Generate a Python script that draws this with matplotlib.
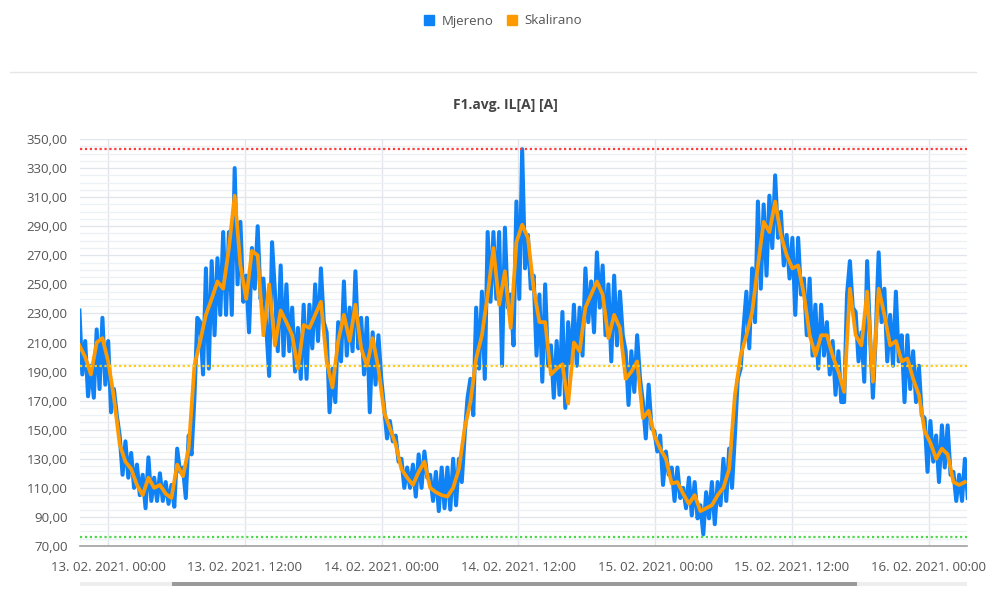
import matplotlib
matplotlib.use('Agg')
import matplotlib.pyplot as plt
import matplotlib.dates as mdates
from matplotlib.lines import Line2D
from matplotlib.patches import Rectangle, Patch
from matplotlib.ticker import FixedLocator, FuncFormatter
import pandas as pd
import numpy as np

plt.rcParams['font.family'] = ['Open Sans', 'DejaVu Sans']

####################################################
# Data (struja po fazi, A)
####################################################
# Mjereno ~ every 15 min, Skalirano ~ every 30 min
mjereno = [
    232, 188, 211, 173, 194, 172, 219, 178, 227, 181, 211, 162, 178, 160, 146, 119,
    142, 117, 134, 110, 126, 105, 119, 96, 131, 101, 117, 101, 120, 101, 114, 99,
    112, 97, 137, 121, 124, 103, 146, 133, 172, 227, 224, 188, 261, 192, 266, 215,
    268, 229, 286, 229, 286, 229, 330, 250, 293, 238, 256, 217, 275, 247, 290, 240,
    254, 220, 187, 279, 245, 204, 263, 201, 250, 204, 234, 190, 220, 185, 236, 185,
    236, 206, 250, 211, 261, 224, 217, 162, 192, 169, 224, 197, 252, 201, 234, 204,
    259, 206, 227, 188, 227, 162, 217, 181, 215, 185, 165, 144, 156, 142, 146, 128,
    130, 110, 124, 110, 126, 104, 133, 110, 135, 117, 119, 101, 121, 94, 124, 96,
    124, 95, 130, 98, 130, 114, 146, 172, 185, 160, 234, 192, 245, 185, 286, 238,
    286, 240, 286, 194, 289, 234, 243, 208, 307, 240, 343, 261, 284, 247, 256, 201,
    243, 183, 250, 194, 208, 172, 211, 174, 231, 165, 224, 194, 236, 194, 234, 201,
    261, 224, 252, 217, 272, 234, 263, 215, 250, 197, 256, 208, 245, 215, 204, 167,
    204, 176, 215, 185, 169, 144, 181, 151, 149, 135, 146, 112, 135, 119, 124, 101,
    124, 103, 110, 96, 117, 91, 114, 89, 98, 78, 107, 89, 114, 85, 114, 98,
    130, 101, 137, 110, 146, 185, 192, 220, 245, 206, 261, 224, 307, 247, 305, 256,
    311, 275, 325, 282, 300, 263, 284, 254, 282, 229, 282, 243, 254, 215, 254, 201,
    236, 192, 236, 201, 224, 188, 211, 174, 204, 169, 169, 243, 266, 234, 231, 197,
    217, 183, 266, 215, 172, 215, 272, 224, 247, 197, 229, 194, 245, 197, 215, 169,
    215, 178, 204, 169, 194, 160, 158, 121, 156, 128, 146, 114, 153, 124, 153, 119,
    121, 101, 119, 101, 130, 103,
]
skalirano = [
    208, 200, 188, 210, 213, 197, 172, 140, 128, 123, 112, 105, 117, 110, 112, 106,
    103, 126, 118, 137, 194, 211, 229, 240, 252, 247, 275, 311, 263, 240, 273, 270,
    215, 250, 208, 232, 224, 215, 192, 222, 220, 229, 238, 197, 179, 211, 229, 211,
    236, 206, 194, 213, 192, 162, 151, 140, 123, 117, 112, 121, 128, 110, 107,
    105, 104, 110, 123, 151, 169, 199, 215, 243, 275, 236, 259, 220, 279, 291, 282,
    247, 224, 224, 188, 192, 195, 168, 210, 204, 234, 243, 252, 243, 213, 229,
    220, 185, 190, 197, 158, 163, 146, 137, 130, 113, 114, 106, 99, 105, 94, 96,
    98, 105, 110, 123, 174, 201, 215, 231, 263, 293, 286, 307, 284, 270, 261,
    263, 243, 215, 201, 215, 215, 201, 190, 176, 247, 215, 208, 245, 183, 247, 229,
    208, 211, 197, 199, 185, 174, 149, 141, 130, 137, 133, 114, 112, 114,
]
granice = [343, 194, 76]          # gornja, srednja, donja granica
granice_boje = ['#ff3b3b', '#ffcc1a', '#4cd94c']
serije = ['Mjereno', 'Skalirano']

t_pocetak = '2021-02-12 21:29'
t_kraj = '2021-02-16 03:10'
t_skal = pd.date_range(t_pocetak, t_kraj, periods=len(skalirano))
t_mjer = pd.date_range(t_pocetak, '2021-02-16 03:25', periods=len(mjereno))

BLUE = '#0f82f5'
ORANGE = '#ff9900'

####################################################
# Figure
####################################################
fig = plt.figure(figsize=(9.86, 6.04), dpi=100)
ax = fig.add_axes([80/986, 1-546/604, 887/986, 407/604])

ax.plot(t_mjer, mjereno, color=BLUE, lw=2.9, zorder=3)
ax.plot(t_skal, skalirano, color=ORANGE, lw=2.7, zorder=4)

for g, c in zip(granice, granice_boje):
    ax.axhline(g, color=c, lw=1.6, ls=(0, (1, 1.2)), zorder=5)

ax.set_ylim(70, 350)
ax.set_xlim(pd.Timestamp('2021-02-12 21:32'), pd.Timestamp('2021-02-16 03:21'))

ax.yaxis.set_major_locator(FixedLocator(np.arange(70, 351, 20)))
ax.yaxis.set_minor_locator(FixedLocator(np.arange(70, 351, 5)))
ax.yaxis.set_major_formatter(FuncFormatter(lambda v, p: ('%.2f' % v).replace('.', ',')))
ax.xaxis.set_major_locator(FixedLocator(mdates.date2num(
    pd.date_range('2021-02-13 00:00', '2021-02-16 00:00', freq='12h'))))
ax.xaxis.set_major_formatter(mdates.DateFormatter('%d. %m. %Y. %H:%M'))

ax.grid(which='minor', axis='y', color='#edf0f4', lw=1)
ax.grid(which='major', axis='y', color='#e2e6ec', lw=1)
ax.grid(which='major', axis='x', color='#e2e6ec', lw=1)
ax.set_axisbelow(True)

for s in ['top', 'right', 'left']:
    ax.spines[s].set_visible(False)
ax.spines['bottom'].set_color('#a0a0a0')
ax.spines['bottom'].set_linewidth(1.2)

ax.tick_params(axis='y', which='both', length=0, pad=9, labelsize=9.5, labelcolor='#555555')
ax.tick_params(axis='x', which='both', length=0, pad=11, labelsize=9.5, labelcolor='#555555')

fig.text(505/986, 1-105/604, 'F1.avg. IL[A] [A]', ha='center', va='center',
         fontsize=10, fontweight='bold', color='#444444')

handles = [Patch(color=BLUE, label=serije[0]), Patch(color=ORANGE, label=serije[1])]
fig.legend(handles=handles, loc='center', bbox_to_anchor=(503/986, 1-21/604), ncol=2,
           frameon=False, handlelength=0.75, handleheight=0.75, handletextpad=0.6,
           columnspacing=1.0, fontsize=9.5, labelcolor='#555555')

# separator under legend
fig.add_artist(Line2D([10/986, 976/986], [1-72/604, 1-72/604], color='#e6e6e6', lw=1))

# scrollbar
fig.add_artist(Rectangle((80/986, 1-586/604), 887/986, 4/604, color='#eeeeee', lw=0))
fig.add_artist(Rectangle((172/986, 1-586/604), 685/986, 4/604, color='#9a9a9a', lw=0))

plt.savefig('out.png', dpi=100)
